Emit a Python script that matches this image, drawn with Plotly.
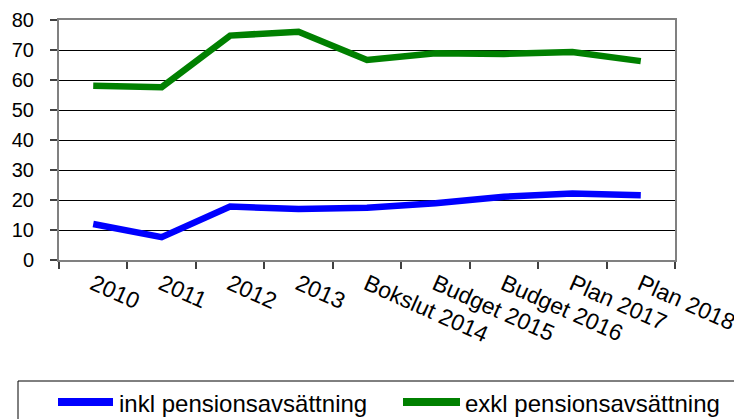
import plotly.graph_objects as go

categories = ["2010", "2011", "2012", "2013", "Bokslut 2014", "Budget 2015",
              "Budget 2016", "Plan 2017", "Plan 2018"]
inkl_values = [12.0, 7.6, 17.8, 17.0, 17.4, 18.9, 21.1, 22.2, 21.6]
exkl_values = [58.1, 57.6, 74.8, 76.1, 66.7, 68.9, 68.7, 69.3, 66.3]
series_names = ["inkl pensionsavsättning", "exkl pensionsavsättning"]
series_colors = ["#0000FF", "#008000"]
y_ticks = [0, 10, 20, 30, 40, 50, 60, 70, 80]

OFF = 8  # page body margin
W, H = 742 - OFF, 419 - OFF
L, T = 59 - OFF, 20 - OFF
pw, ph = 616, 240
R, B = W - L - pw, H - T - ph

def px(x):
    return (x - OFF - L) / pw

def py(y):
    return (T + ph - (y - OFF)) / ph

fig = go.Figure()
for name, vals, col in zip(series_names, [inkl_values, exkl_values], series_colors):
    fig.add_trace(go.Scatter(x=categories, y=vals, mode="lines", name=name,
                             line=dict(color=col, width=6.5), showlegend=False))

FONT = "Liberation Sans, Arial, sans-serif"
fig.update_layout(
    width=W, height=H,
    margin=dict(l=L, r=R, t=T, b=B, autoexpand=False),
    paper_bgcolor="white", plot_bgcolor="white",
    font=dict(family=FONT, color="black"),
    xaxis=dict(type="category", categoryarray=categories, range=[-0.5, 8.5],
               tickson="boundaries", ticks="outside", ticklen=7, tickwidth=1.5,
               tickcolor="#404040", showgrid=False, showline=True,
               linecolor="#808080", linewidth=2, mirror=True, automargin=False,
               tickangle=24, tickfont=dict(size=23, family=FONT, color="black")),
    yaxis=dict(range=[0, 80], tickvals=y_ticks, ticks="outside", ticklen=7,
               tickwidth=1.5, tickcolor="#404040", showgrid=True,
               gridcolor="black", gridwidth=1, zeroline=False, showline=True,
               linecolor="#808080", linewidth=2, mirror=True, automargin=False,
               ticklabelstandoff=12,
               tickfont=dict(size=20, family=FONT, color="black")),
)

# legend box and entries
fig.add_shape(type="rect", xref="paper", yref="paper",
              x0=px(18), x1=px(770), y0=py(381), y1=py(440),
              line=dict(color="black", width=1), fillcolor="rgba(0,0,0,0)")
legend_items = [(58, 113, 117), (403, 460, 463)]
for (x0, x1, tx), name, col in zip(legend_items, series_names, series_colors):
    fig.add_shape(type="line", xref="paper", yref="paper",
                  x0=px(x0), x1=px(x1), y0=py(402), y1=py(402),
                  line=dict(color=col, width=8))
    fig.add_annotation(xref="paper", yref="paper", x=px(tx), y=py(403),
                       xanchor="left", yanchor="middle", showarrow=False,
                       text=name, font=dict(size=24, family=FONT, color="black"))

fig.write_html("out.html")
